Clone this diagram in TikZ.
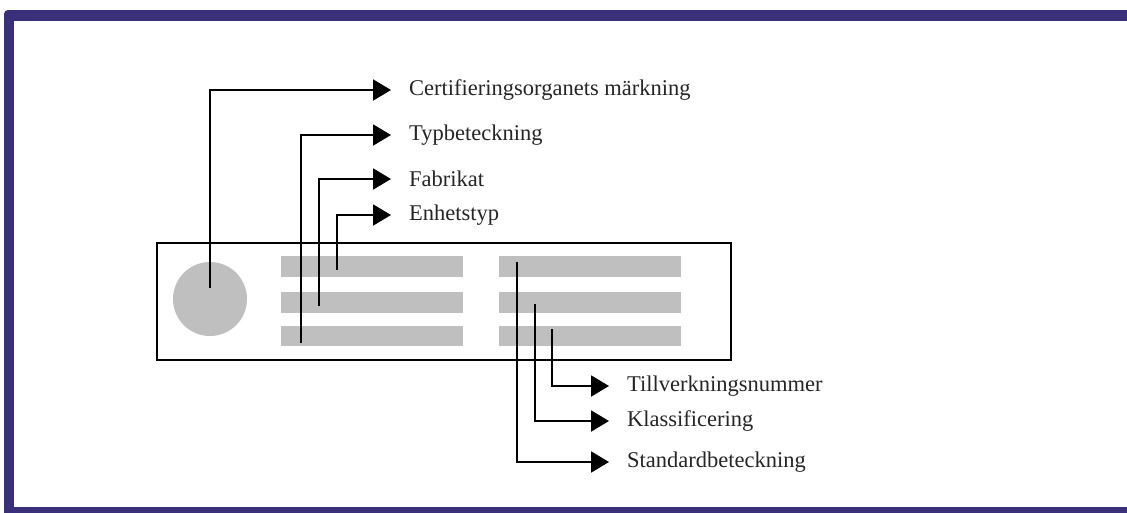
\documentclass[tikz,border=0pt]{standalone}
\usepackage{fontspec}
\setmainfont{Liberation Serif}
\usetikzlibrary{arrows.meta}
\definecolor{framepurple}{HTML}{3A2F7B}
\definecolor{bargray}{HTML}{BFBFBF}
\begin{document}
\begin{tikzpicture}[x=1pt,y=-1pt,
        bar/.style={fill=bargray, minimum width=182pt, minimum height=21pt, inner sep=0pt, anchor=north west},
        lbl/.style={anchor=west, inner sep=0pt, font=\fontsize{22.5}{22.5}\selectfont, text=black!85},
        lead/.style={line width=2pt, -{Triangle[length=18pt,width=21pt]}}]
        \useasboundingbox (0,0) rectangle (1127,512);
        \clip (0,0) rectangle (1127,512);
        % frame
        \fill[framepurple, rounded corners=4pt] (4,10) rectangle (1150,530);
        \fill[white] (14,21) rectangle (1150,507);

        % plate with mark and text fields
        \node[draw, line width=2pt, minimum width=574pt, minimum height=117pt,
            inner sep=0pt, anchor=north west] (plate) at (156,242) {};
        \node[circle, fill=bargray, minimum size=74pt, inner sep=0pt] (mark) at (210,299) {};
        \node[bar] (l1) at (281,256) {};
        \node[bar] (l2) at (281,292) {};
        \node[bar, minimum height=20pt] (l3) at (281,326) {};
        \node[bar] (r1) at (499,256) {};
        \node[bar] (r2) at (499,292) {};
        \node[bar, minimum height=20pt] (r3) at (499,326) {};

        % labels
        \node[lbl] (cert) at (409,90) {Certifieringsorganets märkning};
        \node[lbl] (typ) at (409,135) {Typbeteckning};
        \node[lbl] (fab) at (409,179) {Fabrikat};
        \node[lbl] (enh) at (409,215) {Enhetstyp};
        \node[lbl] (tillv) at (627,386) {Tillverkningsnummer};
        \node[lbl] (klass) at (627,421) {Klassificering};
        \node[lbl] (std) at (627,462) {Standardbeteckning};

        % start points of the leaders
        \coordinate (pCert) at (210,288);
        \coordinate (pTyp) at (301,343);
        \coordinate (pFab) at (319,306);
        \coordinate (pEnh) at (337,270);
        \coordinate (pStd) at (517,262);
        \coordinate (pKlass) at (535,304);
        \coordinate (pTillv) at (552,329);

        \draw [lead] (pCert) |- ([xshift=-18pt]cert.west);
        \draw [lead] (pTyp) |- ([xshift=-18pt]typ.west);
        \draw [lead] (pFab) |- ([xshift=-18pt]fab.west);
        \draw [lead] (pEnh) |- ([xshift=-18pt]enh.west);
        \draw [lead] (pTillv) |- ([xshift=-18pt]tillv.west);
        \draw [lead] (pKlass) |- ([xshift=-18pt]klass.west);
        \draw [lead] (pStd) |- ([xshift=-18pt]std.west);
    \end{tikzpicture}
\end{document}
